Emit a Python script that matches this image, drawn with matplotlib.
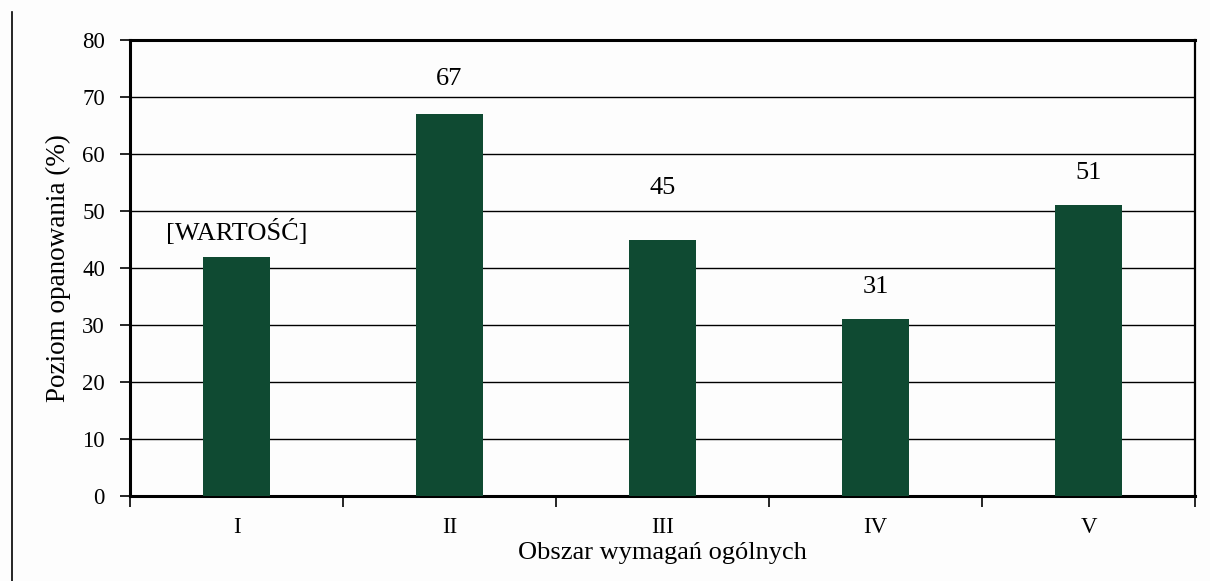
import matplotlib.pyplot as plt
import numpy as np
from matplotlib.lines import Line2D

categories = ["I", "II", "III", "IV", "V"]
values = [42, 67, 45, 31, 51]
bar_labels = ["[WARTOŚĆ]", "67", "45", "31", "51"]
# label centre offsets above bar tops, in pixels (labels were nudged by hand in the original)
label_offsets_px = [25, 35, 52, 32, 32]

plt.rcParams["font.family"] = ["Liberation Serif", "DejaVu Serif"]

bar_color = "#0f4a32"
dpi = 100
fig = plt.figure(figsize=(12.10, 5.81), dpi=dpi, facecolor="#fdfdfd")
W, H = 1210, 581
left, right, top, bottom = 130, 1195, 40, 496
ax = fig.add_axes([left / W, 1 - bottom / H, (right - left) / W, (bottom - top) / H])
ax.set_facecolor("#fdfdfd")

x = np.arange(len(categories))
ax.bar(x, values, width=0.315, color=bar_color, zorder=3)

ax.set_xlim(-0.5, len(categories) - 0.5)
ax.set_ylim(0, 80)
ax.set_yticks(np.arange(0, 81, 10))
ax.yaxis.grid(True, color="black", linewidth=1.0, zorder=0)
ax.set_axisbelow(True)

ax.set_xticks(x)
ax.set_xticklabels(categories, fontsize=16.5)
ax.set_xticks(np.arange(-0.5, len(categories)), minor=True)
ax.tick_params(axis="x", which="major", length=0, pad=15)
ax.tick_params(axis="x", which="minor", length=8, width=1.2, direction="out")
ax.tick_params(axis="y", which="major", length=7, width=1.2, labelsize=16.5, pad=11)

for side in ["left", "bottom", "top"]:
    ax.spines[side].set_linewidth(2.2)
ax.spines["right"].set_linewidth(1.6)

for xi, v, lab, off in zip(x, values, bar_labels, label_offsets_px):
    ax.annotate(lab, (xi, v), xytext=(0, off * 72 / dpi), textcoords="offset points",
                ha="center", va="center", fontsize=19)

ax.set_ylabel("Poziom opanowania (%)", fontsize=19.5, labelpad=8)
ax.set_xlabel("Obszar wymagań ogólnych", fontsize=19, labelpad=3)

# thin vertical rule at the left edge of the image
fig.add_artist(Line2D([12 / W, 12 / W], [0, 1 - 12 / H], transform=fig.transFigure,
                      color="black", linewidth=1.2))

fig.savefig("out.png", dpi=dpi, facecolor=fig.get_facecolor())
